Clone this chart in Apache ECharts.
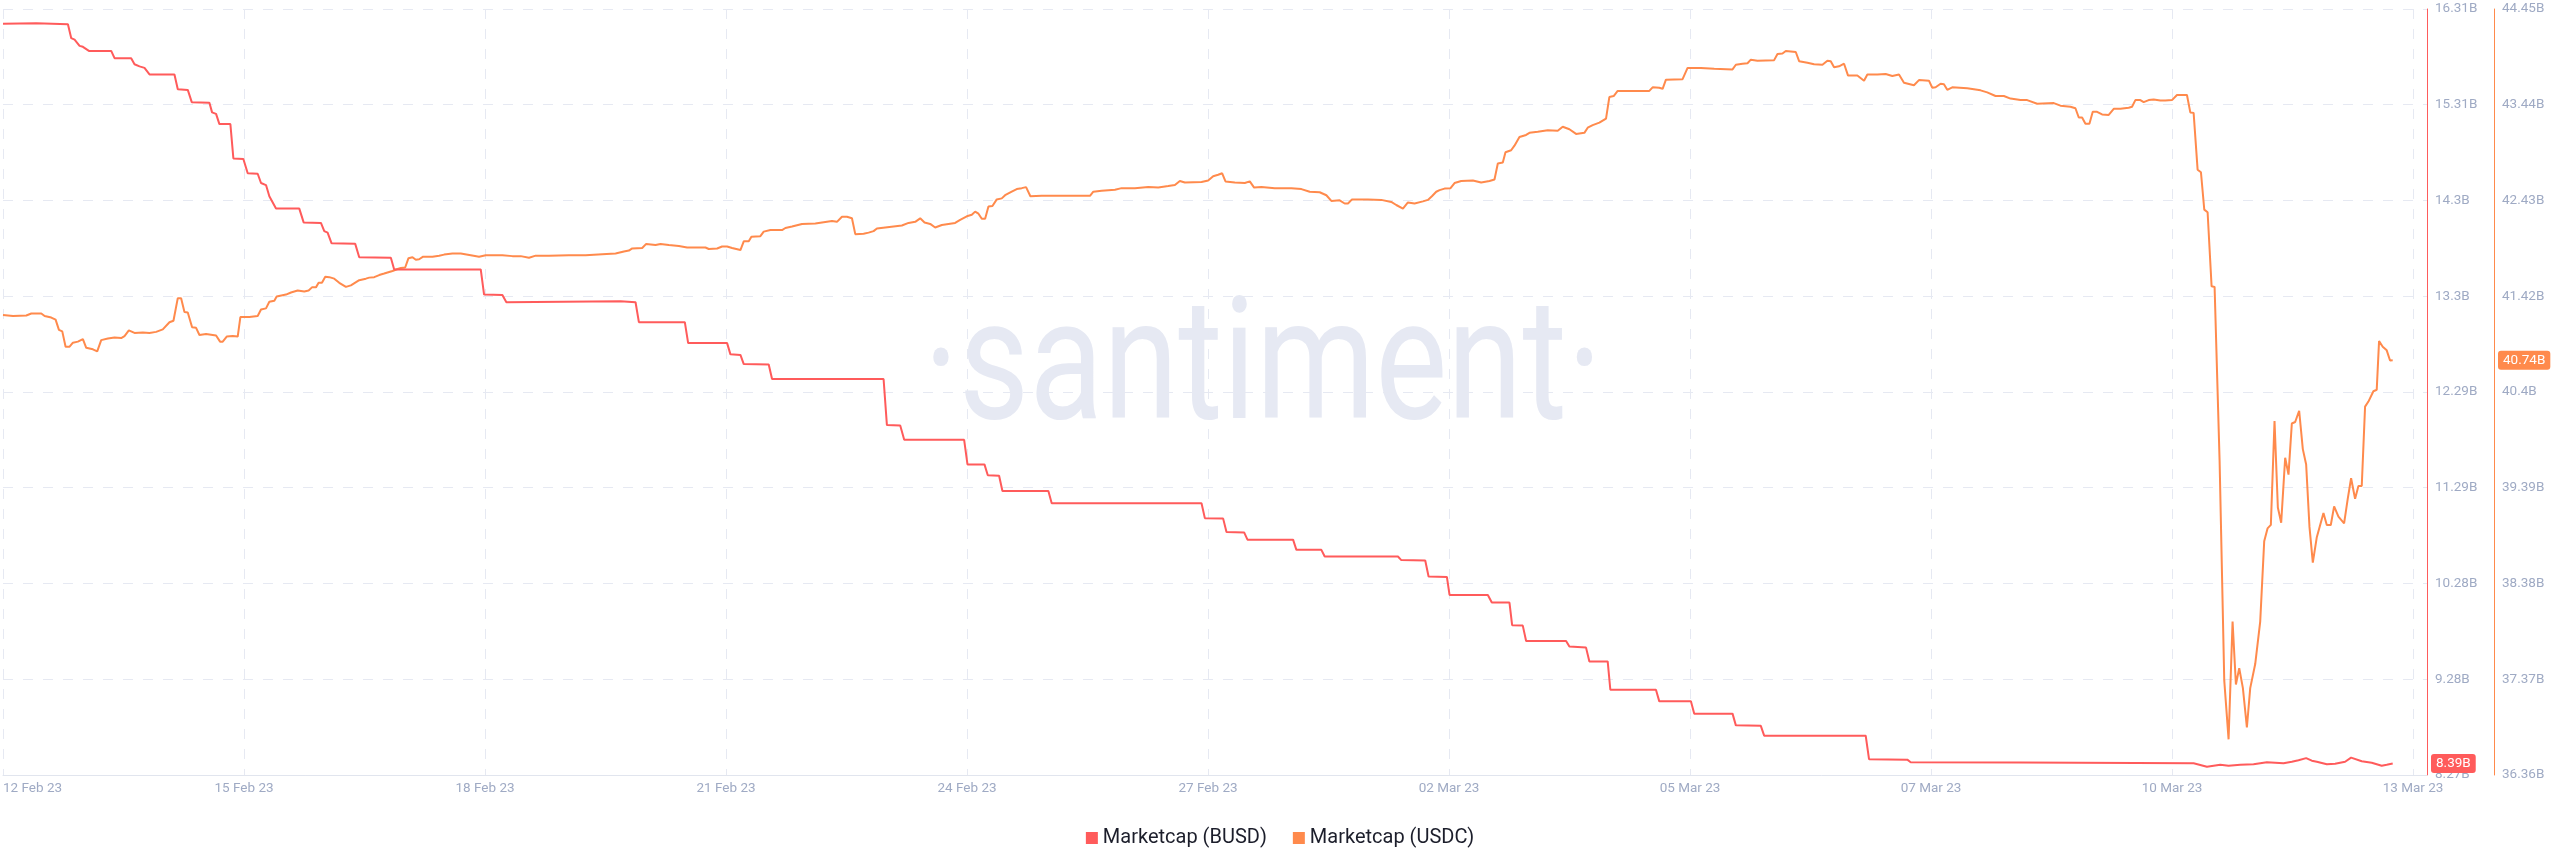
<!DOCTYPE html>
<html>
<head>
<meta charset="utf-8">
<script src="https://cdn.jsdelivr.net/npm/echarts@6.0.0/dist/echarts.min.js"></script>
<style>
html,body{margin:0;padding:0;background:#ffffff;}
#chart{width:2560px;height:867px;}
</style>
</head>
<body>
<div id="chart"></div>
<script>
// ---------- DATA ----------
// x values are hours from the start of the chart (12 Feb 23)
const xTickLabels = ['12 Feb 23','15 Feb 23','18 Feb 23','21 Feb 23','24 Feb 23','27 Feb 23','02 Mar 23','05 Mar 23','07 Mar 23','10 Mar 23','13 Mar 23'];
const busdTickLabels = ['8.27B','9.28B','10.28B','11.29B','12.29B','13.3B','14.3B','15.31B','16.31B'];
const usdcTickLabels = ['36.36B','37.37B','38.38B','39.39B','40.4B','41.42B','42.43B','43.44B','44.45B'];

const busdHours = [
  0, 10, 19.5, 20.5, 21.5, 23, 24, 25.8, 32.5, 33.5,
  38.5, 39.5, 41, 42.5, 44, 51.5, 52.5, 55.5, 56.7, 62,
  62.8, 64, 65, 68.3, 69.2, 72.2, 73.5, 76.5, 77.5, 79,
  80, 82, 89, 90.3, 95.5, 96.5, 97.5, 98.7, 105.8, 107,
  116.5, 117.5, 143.5, 144.5, 150, 151.2, 185.5, 190, 191, 204.8,
  205.8, 217.5, 218.5, 221.5, 222.5, 230, 231, 264.5, 265.5, 269.5,
  270.7, 288.7, 289.7, 294.8, 295.8, 299.2, 300.2, 314, 315, 360,
  361, 366.5, 367.5, 372.8, 373.8, 387.5, 388.5, 396, 397, 419,
  420, 427.2, 428.2, 433.7, 434.5, 446, 447.2, 452.5, 453.3, 456.5,
  457.5, 469.5, 470.5, 475.5, 476.5, 482, 482.8, 496.5, 497.5, 507,
  508, 519.5, 520.5, 528, 529, 559.5, 560.5, 572, 573, 606,
  658, 662, 664, 666, 668.5, 672, 676, 680, 685, 687.5,
  689.5, 691.8, 693.5, 695, 698, 700.5, 703.5, 705.3, 708.5, 711.5,
  714.5, 716, 717.8
];
const busdValues = [
  16.154, 16.16, 16.15, 16.004, 15.988, 15.923, 15.913, 15.87, 15.87, 15.794,
  15.794, 15.73, 15.708, 15.692, 15.623, 15.623, 15.467, 15.461, 15.332, 15.327,
  15.225, 15.209, 15.102, 15.102, 14.742, 14.736, 14.586, 14.581, 14.484, 14.462,
  14.344, 14.215, 14.215, 14.07, 14.065, 13.979, 13.963, 13.85, 13.845, 13.705,
  13.70, 13.576, 13.576, 13.313, 13.307, 13.232, 13.243, 13.232, 13.023, 13.023,
  12.803, 12.803, 12.685, 12.679, 12.583, 12.578, 12.427, 12.427, 11.943, 11.938,
  11.788, 11.788, 11.53, 11.53, 11.417, 11.411, 11.251, 11.251, 11.122, 11.122,
  10.966, 10.961, 10.821, 10.816, 10.74, 10.74, 10.633, 10.633, 10.563, 10.563,
  10.526, 10.521, 10.354, 10.349, 10.16, 10.16, 10.08, 10.08, 9.843, 9.838,
  9.677, 9.677, 9.618, 9.607, 9.462, 9.462, 9.165, 9.165, 9.043, 9.043,
  8.914, 8.914, 8.791, 8.786, 8.683, 8.683, 8.436, 8.431, 8.404, 8.402,
  8.393, 8.356, 8.367, 8.377, 8.367, 8.377, 8.382, 8.404, 8.393, 8.409,
  8.425, 8.447, 8.42, 8.409, 8.382, 8.388, 8.409, 8.452, 8.414, 8.398,
  8.367, 8.377, 8.39
];

const usdcHours = [
  0, 3, 7, 8.5, 11.5, 12.5, 14.5, 15.8, 16.8, 17.8,
  18.8, 20, 21, 22.5, 24, 25, 27, 28.3, 29.5, 31.5,
  33.5, 35.5, 36.5, 37.8, 39.5, 42, 44, 46, 48, 50,
  51.2, 52.5, 53.5, 54.5, 55.5, 56.8, 58, 59, 61, 64,
  65.2, 66, 67.2, 69, 70.5, 71.3, 74, 76.5, 77.5, 79,
  80, 81.5, 82.2, 85, 86.5, 88.5, 90.5, 91.8, 92.8, 94,
  94.8, 95.8, 96.8, 98, 99.5, 101, 103, 104.5, 107, 109,
  110, 111.5, 113, 114.5, 117, 118.5, 119.5, 120.8, 121.8, 123,
  124, 125, 126.2, 129, 131, 132.5, 135, 137.5, 140.5, 143,
  145, 150, 153, 155.5, 158, 160, 164, 170, 175, 180,
  184, 186.5, 188, 189, 192, 193.2, 196, 197.5, 200, 203,
  205.5, 208, 211, 212, 214.5, 216, 217.5, 219, 221.5, 222.5,
  224, 224.8, 227.5, 228.5, 230.5, 234, 235, 237, 240, 244,
  246, 249, 250.5, 252, 253.5, 255, 256, 258.5, 260, 261.5,
  262.5, 265, 267.5, 270, 272, 274, 275.5, 276.8, 278.5, 280,
  282, 284, 286, 287.5, 289.5, 291, 292, 293, 294, 295,
  296, 297.2, 298.5, 300, 301, 303, 304.5, 306, 307.3, 308.6,
  312, 320, 326.5, 327.5, 330, 334, 336, 340, 344, 347,
  350, 352, 353.5, 355, 360, 362, 363.5, 365, 366.2, 367.2,
  370, 373, 374.5, 375.8, 378, 382, 387, 390, 392.5, 395.5,
  397.5, 399, 401.5, 403, 404, 405.2, 410, 414, 417, 418.5,
  420.5, 422, 424, 426.5, 428, 429.2, 430.5, 431.5, 433, 434.8,
  436, 438, 441.5, 444, 446.5, 448, 449, 450.5, 451.3, 453,
  454, 455.5, 457.5, 458.5, 461, 464, 467, 468.5, 470.5, 472.5,
  475, 476, 477.5, 479.5, 481.5, 482.5, 483.8, 485, 488, 494.5,
  495.5, 497.5, 498.5, 499.5, 504.5, 506, 510, 514, 519.5, 520.5,
  522.5, 524, 525, 527, 532, 533, 534.5, 535.5, 538.5, 539.5,
  542, 544, 546.5, 548, 549, 550, 551.5, 553, 554.2, 557,
  559, 560, 563, 565.5, 567.5, 569.5, 571, 574, 575.5, 578.5,
  579.5, 580.5, 582, 583, 584, 585.5, 590, 594, 596, 598.5,
  601, 603, 606, 608, 611, 616, 618, 621, 622.5, 623.5,
  624.5, 625.5, 626.7, 627.7, 629, 630.5, 632.5, 634, 636, 638.5,
  639.5, 640.5, 642, 643, 644.5, 646, 648, 649.5, 651.5, 653,
  656, 657, 658, 659.2, 660.2, 661.2, 662.2, 663.4, 664.3, 665.8,
  667.2, 668.5, 669.7, 670.7, 671.7, 672.8, 674, 675, 676.5, 678,
  679.2, 680.2, 681.2, 682.3, 683.3, 684.3, 685.5, 686.5, 687.5, 688.5,
  689.7, 690.8, 691.8, 692.8, 693.8, 695, 697, 698, 699.2, 700.2,
  701.5, 703.2, 704.3, 705.3, 706.5, 707.5, 708.5, 709.5, 710.5, 712,
  713, 713.7, 714.8, 716, 717, 717.8
];
const usdcValues = [
  41.218, 41.207, 41.213, 41.234, 41.234, 41.207, 41.191, 41.169, 41.061, 41.045,
  40.883, 40.883, 40.926, 40.937, 40.964, 40.872, 40.856, 40.834, 40.953, 40.969,
  40.980, 40.975, 40.996, 41.056, 41.029, 41.034, 41.029, 41.040, 41.067, 41.142,
  41.158, 41.396, 41.396, 41.25, 41.245, 41.088, 41.083, 41.007, 41.018, 41.002,
  40.937, 40.937, 40.991, 40.996, 40.991, 41.196, 41.196, 41.207, 41.277, 41.288,
  41.358, 41.369, 41.413, 41.434, 41.456, 41.477, 41.466, 41.477, 41.51, 41.51,
  41.558, 41.558, 41.623, 41.618, 41.602, 41.558, 41.515, 41.531, 41.586, 41.602,
  41.613, 41.618, 41.64, 41.656, 41.683, 41.704, 41.715, 41.72, 41.818, 41.829,
  41.802, 41.807, 41.834, 41.834, 41.845, 41.856, 41.867, 41.867, 41.85, 41.834,
  41.85, 41.85, 41.84, 41.84, 41.823, 41.845, 41.845, 41.85, 41.85, 41.861,
  41.867, 41.888, 41.899, 41.921, 41.926, 41.969, 41.958, 41.969, 41.958, 41.948,
  41.931, 41.931, 41.931, 41.915, 41.921, 41.942, 41.942, 41.926, 41.904, 41.996,
  41.996, 42.045, 42.051, 42.099, 42.115, 42.115, 42.137, 42.153, 42.18, 42.185,
  42.196, 42.212, 42.202, 42.256, 42.256, 42.24, 42.072, 42.077, 42.088, 42.104,
  42.131, 42.142, 42.153, 42.164, 42.191, 42.202, 42.239, 42.196, 42.18, 42.142,
  42.169, 42.18, 42.191, 42.223, 42.261, 42.277, 42.31, 42.288, 42.234, 42.234,
  42.364, 42.369, 42.439, 42.45, 42.483, 42.521, 42.548, 42.558, 42.569, 42.472,
  42.477, 42.477, 42.477, 42.52, 42.531, 42.542, 42.558, 42.558, 42.569, 42.564,
  42.58, 42.591, 42.634, 42.618, 42.623, 42.639, 42.683, 42.699, 42.715, 42.629,
  42.618, 42.612, 42.629, 42.564, 42.569, 42.558, 42.558, 42.548, 42.52, 42.515,
  42.483, 42.423, 42.429, 42.396, 42.396, 42.439, 42.439, 42.434, 42.412, 42.38,
  42.342, 42.407, 42.396, 42.418, 42.434, 42.472, 42.52, 42.537, 42.553, 42.558,
  42.612, 42.634, 42.639, 42.618, 42.634, 42.650, 42.818, 42.829, 42.937, 42.958,
  43.007, 43.099, 43.12, 43.142, 43.153, 43.169, 43.164, 43.207, 43.18, 43.131,
  43.142, 43.196, 43.223, 43.25, 43.293, 43.52, 43.531, 43.585, 43.585, 43.585,
  43.623, 43.618, 43.607, 43.704, 43.709, 43.828, 43.828, 43.818, 43.812, 43.861,
  43.872, 43.877, 43.915, 43.904, 43.91, 43.974, 43.98, 44.007, 43.996, 43.899,
  43.883, 43.866, 43.861, 43.904, 43.899, 43.834, 43.845, 43.872, 43.747, 43.747,
  43.693, 43.758, 43.758, 43.764, 43.742, 43.758, 43.672, 43.645, 43.699, 43.693,
  43.618, 43.623, 43.661, 43.656, 43.596, 43.623, 43.612, 43.591, 43.569, 43.531,
  43.531, 43.504, 43.488, 43.488, 43.45, 43.456, 43.429, 43.418, 43.402, 43.304,
  43.304, 43.239, 43.239, 43.364, 43.364, 43.337, 43.331, 43.396, 43.396, 43.407,
  43.418, 43.488, 43.488, 43.466, 43.488, 43.493, 43.483, 43.483, 43.488, 43.542,
  43.542, 43.358, 43.353, 42.753, 42.726, 42.331, 42.304, 41.521, 41.515, 39.683,
  37.359, 36.737, 37.98, 37.316, 37.489, 37.278, 36.862, 37.278, 37.532, 37.98,
  38.829, 38.964, 39.002, 40.099, 39.186, 39.024, 39.71, 39.532, 40.072, 40.088,
  40.207, 39.802, 39.64, 38.98, 38.602, 38.872, 39.126, 39.0, 39.0, 39.197,
  39.088, 39.018, 39.278, 39.494, 39.278, 39.413, 39.413, 40.251, 40.304, 40.413,
  40.429, 40.942, 40.883, 40.845, 40.737, 40.74
];

// ---------- AXIS SETTINGS ----------
const X_MAX = 728.1, X_STEP = 72.39;
const BUSD_MIN = 8.27, BUSD_MAX = 16.31, BUSD_STEP = 1.005;
const USDC_MIN = 36.36, USDC_MAX = 44.45, USDC_STEP = 1.01125;

const RED = '#ff5b5b';
const ORANGE = '#ff8a4c';
const LABEL = '#9faac4';
const GRID = '#e6e9f2';
const FONT = 'Roboto, "Noto Sans", sans-serif';

function pick(arr, v, min, step) {
  const k = Math.round((v - min) / step);
  if (Math.abs(v - (min + k * step)) > step * 0.01) return '';
  return arr[k] !== undefined ? arr[k] : '';
}

const chart = echarts.init(document.getElementById('chart'), null, {renderer: 'canvas'});
chart.setOption({
  animation: false,
  backgroundColor: '#ffffff',
  textStyle: {fontFamily: FONT},
  axisPointer: {triggerOn: 'none'},
  graphic: [{
    type: 'text',
    x: 1263, y: 375,
    scaleX: 0.8,
    silent: true,
    z: -1,
    style: {
      text: '\u00b7santiment\u00b7',
      font: '400 170px Roboto',
      fill: '#e6e9f3',
      textAlign: 'center',
      textVerticalAlign: 'middle'
    }
  }],
  grid: {left: 0, right: 133, top: 9, bottom: 92, containLabel: false},
  legend: {
    left: 'center', top: 823,
    icon: 'rect', itemWidth: 12, itemHeight: 12, itemGap: 26,
    textStyle: {fontSize: 20, color: '#1c1e2b', fontFamily: FONT},
    data: ['Marketcap (BUSD)', 'Marketcap (USDC)']
  },
  xAxis: {
    type: 'value', min: 0, max: X_MAX, interval: X_STEP,
    axisLine: {show: true, onZero: false, lineStyle: {color: '#e1e5ee', width: 1}},
    axisTick: {show: false},
    axisLabel: {
      color: LABEL, fontSize: 13.5, fontFamily: FONT, margin: 7,
      alignMinLabel: 'left',
      formatter: v => pick(xTickLabels, v, 0, X_STEP)
    },
    splitLine: {show: true, showMaxLine: false, lineStyle: {color: GRID, type: [10, 10], width: 1}}
  },
  yAxis: [{
    type: 'value', position: 'right',
    min: BUSD_MIN, max: BUSD_MAX, interval: BUSD_STEP,
    axisLine: {show: true, onZero: false, lineStyle: {color: RED, width: 1}},
    axisTick: {show: false},
    axisLabel: {
      color: LABEL, fontSize: 13.5, fontFamily: FONT, margin: 8,
      formatter: v => pick(busdTickLabels, v, BUSD_MIN, BUSD_STEP)
    },
    splitLine: {show: true, lineStyle: {color: GRID, type: [10, 10], width: 1}},
    axisPointer: {
      show: true, type: 'none', status: 'show',
      value: busdValues[busdValues.length - 1],
      triggerTooltip: false,
      label: {
        show: true, margin: 4, padding: [3, 5, 2, 5],
        backgroundColor: RED, color: '#ffffff', fontSize: 13.5, fontFamily: FONT,
        formatter: p => (+p.value).toFixed(2) + 'B'
      }
    }
  }, {
    type: 'value', position: 'right', offset: 67,
    min: USDC_MIN, max: USDC_MAX, interval: USDC_STEP,
    axisLine: {show: true, onZero: false, lineStyle: {color: ORANGE, width: 1}},
    axisTick: {show: false},
    axisLabel: {
      color: LABEL, fontSize: 13.5, fontFamily: FONT, margin: 8,
      formatter: v => pick(usdcTickLabels, v, USDC_MIN, USDC_STEP)
    },
    splitLine: {show: false},
    axisPointer: {
      show: true, type: 'none', status: 'show',
      value: usdcValues[usdcValues.length - 1],
      triggerTooltip: false,
      label: {
        show: true, margin: 4, padding: [3, 5, 2, 5],
        backgroundColor: ORANGE, color: '#ffffff', fontSize: 13.5, fontFamily: FONT,
        formatter: p => (+p.value).toFixed(2) + 'B'
      }
    }
  }],
  series: [{
    name: 'Marketcap (BUSD)', type: 'line', yAxisIndex: 0,
    showSymbol: false, symbol: 'none',
    color: RED,
    lineStyle: {color: RED, width: 2},
    data: busdHours.map((h, i) => [h, busdValues[i]]),
    z: 3
  }, {
    name: 'Marketcap (USDC)', type: 'line', yAxisIndex: 1,
    showSymbol: false, symbol: 'none',
    color: ORANGE,
    lineStyle: {color: ORANGE, width: 2},
    data: usdcHours.map((h, i) => [h, usdcValues[i]]),
    z: 2
  }]
});
</script>
</body>
</html>
